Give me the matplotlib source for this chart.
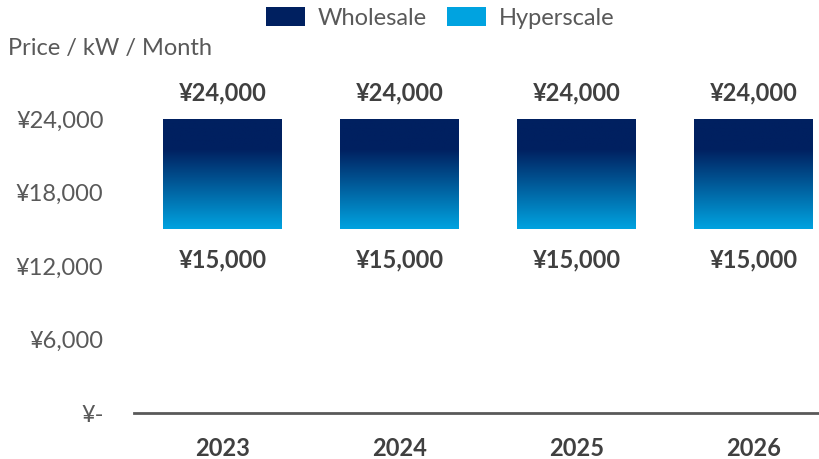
import numpy as np
import matplotlib
matplotlib.use("Agg")
import matplotlib.pyplot as plt
from matplotlib.colors import LinearSegmentedColormap
from matplotlib.patches import Patch

years = ["2023", "2024", "2025", "2026"]
wholesale = [24000, 24000, 24000, 24000]
hyperscale = [15000, 15000, 15000, 15000]
yticks = [0, 6000, 12000, 18000, 24000]
ytick_labels = ["¥-", "¥6,000", "¥12,000", "¥18,000", "¥24,000"]

NAVY = "#002060"
SKY = "#00A3E0"
GREY = "#595959"
DARK = "#404040"
FS = 17

plt.rcParams["font.family"] = ["Lato", "DejaVu Sans"]

fig = plt.figure(figsize=(8.2, 4.59), dpi=100)
ax = fig.add_axes([134 / 820, 46 / 459, 708 / 820, 367.5 / 459])

cmap = LinearSegmentedColormap.from_list("range", [(0.0, SKY), (0.72, NAVY), (1.0, NAVY)])
grad = np.linspace(0, 1, 256).reshape(-1, 1)

x = np.arange(len(years))
width = 0.67
bars = ax.bar(x, np.array(wholesale) - np.array(hyperscale), bottom=hyperscale,
              width=width, color="none", edgecolor="none")
for rect in bars:
    x0, y0 = rect.get_x(), rect.get_y()
    im = ax.imshow(grad, extent=(x0, x0 + rect.get_width(), y0, y0 + rect.get_height()),
                   origin="lower", cmap=cmap, aspect="auto", zorder=2)
    im.set_clip_path(rect)

for xi, hi, lo in zip(x, wholesale, hyperscale):
    ax.annotate(f"¥{hi:,}", (xi, hi), xytext=(0, 19), textcoords="offset points",
                ha="center", va="center", fontsize=FS, fontweight="bold", color=DARK)
    ax.annotate(f"¥{lo:,}", (xi, lo), xytext=(0, -22), textcoords="offset points",
                ha="center", va="center", fontsize=FS, fontweight="bold", color=DARK)

ax.set_xlim(-0.5, 3.5)
ax.set_ylim(0, 30000)
ax.set_xticks(x)
ax.set_xticklabels(years, fontsize=FS, fontweight="bold", color=DARK)
ax.set_yticks(yticks)
ax.set_yticklabels(ytick_labels, fontsize=FS, color=GREY)
ax.tick_params(axis="y", length=0, pad=22)
ax.tick_params(axis="x", length=0, pad=17)
for side in ["top", "right", "left"]:
    ax.spines[side].set_visible(False)
ax.spines["bottom"].set_color(GREY)
ax.spines["bottom"].set_linewidth(2)

fig.text(8 / 820, 1 - 48 / 459, "Price / kW / Month", fontsize=FS, color=GREY,
         ha="left", va="center")

handles = [Patch(facecolor=NAVY, label="Wholesale"), Patch(facecolor=SKY, label="Hyperscale")]
fig.legend(handles=handles, loc="upper center", bbox_to_anchor=(440 / 820, 1.03), ncol=2,
           frameon=False, fontsize=FS, labelcolor=GREY, handlelength=1.65, handleheight=0.85,
           handletextpad=0.55, columnspacing=0.85)

fig.savefig("out.png", dpi=100)
